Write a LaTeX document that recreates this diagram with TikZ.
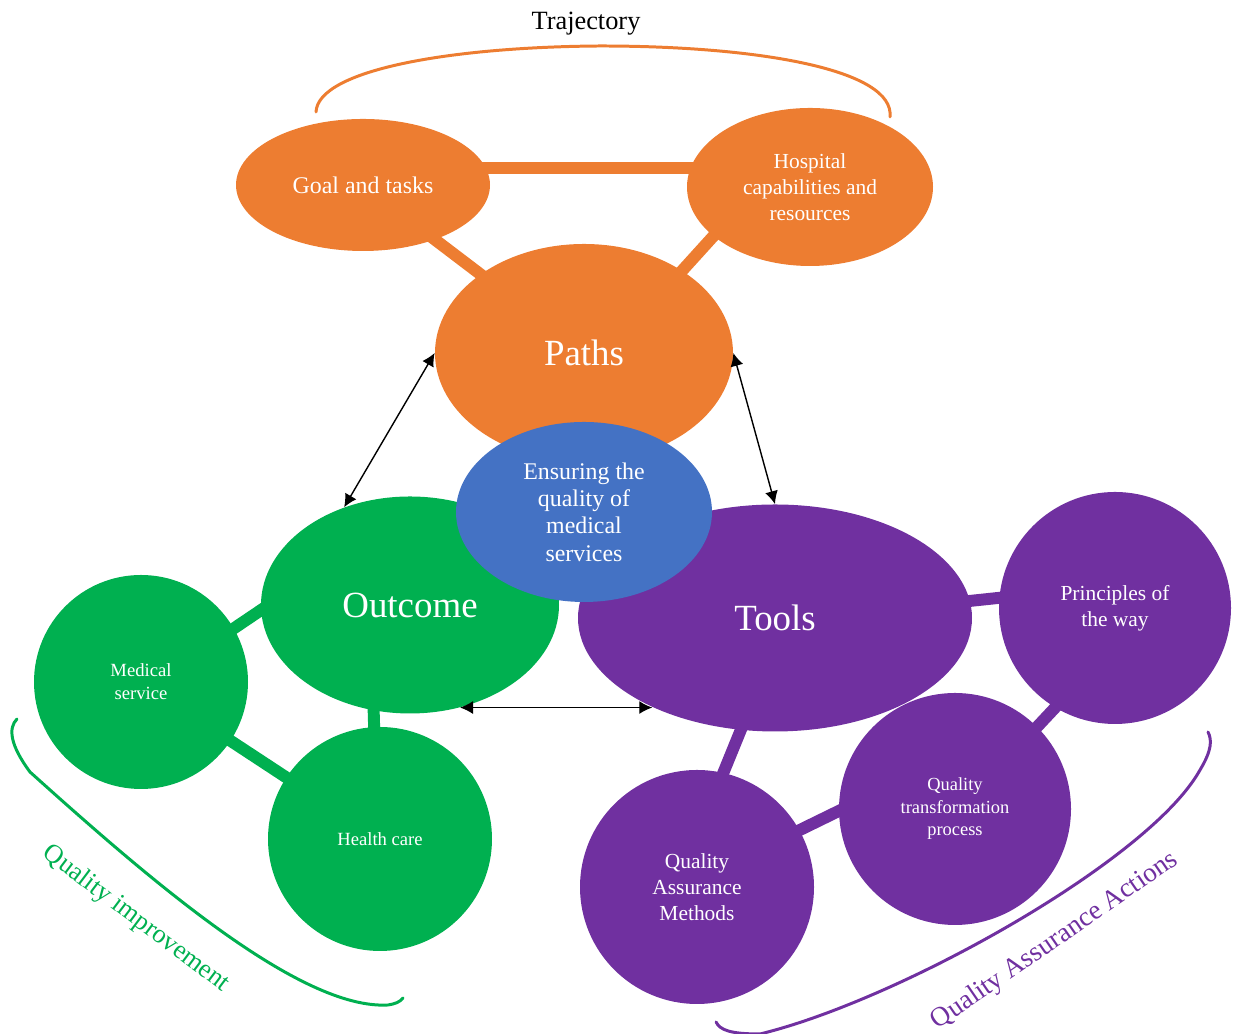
\documentclass[tikz,border=0pt]{standalone}
\usepackage{fontspec}
\setmainfont{Liberation Serif}
\usepackage{tikz}
\usetikzlibrary{calc}
\usetikzlibrary{shapes.geometric,arrows.meta}
\usetikzlibrary{backgrounds}
\definecolor{pathorange}{HTML}{ED7D31}
\definecolor{corebLue}{HTML}{4472C4}
\definecolor{outgreen}{HTML}{00B050}
\definecolor{toolpurple}{HTML}{7030A0}
\tikzset{
  bubble/.style={ellipse, inner sep=0pt, text=white, align=center},
  disc/.style={circle, inner sep=0pt, text=white, align=center},
  link/.style={line width=6.8pt, shorten <=-8pt, shorten >=-8pt},
  twoway/.style={{Latex[length=2.6mm,width=2.6mm]}-{Latex[length=2.6mm,width=2.6mm]}, line width=0.8pt},
  bracket/.style={line width=1.7pt, line cap=round}
}

\begin{document}
\begin{tikzpicture}
        \useasboundingbox (0,0) rectangle (24.76,20.68);
        %JALUR
        \node[bubble, fill=pathorange, minimum width=5.08cm, minimum height=2.64cm, font=\fontsize{13.6}{16}\selectfont] (goal) at (7.26,16.98) {Goal and tasks};
        \node[bubble, fill=pathorange, minimum width=4.92cm, minimum height=3.16cm, font=\fontsize{12.2}{14.7}\selectfont] (hospital) at (16.2,16.94) {Hospital\\capabilities and\\resources};
        \node[bubble, fill=pathorange, minimum width=5.96cm, minimum height=4.36cm, font=\fontsize{21}{25}\selectfont] (paths) at (11.68,13.62) {Paths};
        %HASIL
        \node[bubble, fill=outgreen, minimum width=5.96cm, minimum height=4.34cm, font=\fontsize{21}{25}\selectfont] (outcome) at (8.2,8.58) {Outcome};
        \node[disc, fill=outgreen, minimum size=4.28cm, font=\fontsize{10.6}{13}\selectfont] (medical) at (2.82,7.04) {Medical\\service};
        \node[disc, fill=outgreen, minimum size=4.48cm, font=\fontsize{10.6}{13}\selectfont] (health) at (7.6,3.9) {Health care};
        %ALAT
        \node[bubble, fill=toolpurple, minimum width=7.88cm, minimum height=4.54cm, font=\fontsize{21}{25}\selectfont] (tools) at (15.5,8.32) {Tools};
        \node[disc, fill=toolpurple, minimum size=4.64cm, font=\fontsize{12.2}{14.7}\selectfont] (principles) at (22.3,8.52) {Principles of\\the way};
        \node[disc, fill=toolpurple, minimum size=4.64cm, font=\fontsize{10.5}{12.8}\selectfont] (transform) at (19.1,4.5) {Quality\\transformation\\process};
        \node[disc, fill=toolpurple, minimum size=4.68cm, font=\fontsize{12.2}{14.7}\selectfont] (methods) at (13.94,2.94) {Quality\\Assurance\\Methods};
        %PUSAT
        \node[bubble, fill=corebLue, minimum width=5.12cm, minimum height=3.6cm, font=\fontsize{13.6}{15.6}\selectfont] (core) at (11.68,10.44) {Ensuring the\\quality of\\medical\\services};
        %GARIS HUBUNG
        \begin{scope}[on background layer]
          \draw[link, pathorange] (goal.8) -- (goal.8 -| hospital.center);
          \draw[link, pathorange] (goal) -- (paths);
          \draw[link, pathorange] (hospital.207) -- (paths.40);
          \draw[link, outgreen] (medical.30) -- (outcome.182);
          \draw[link, outgreen] (medical) -- (health);
          \draw[link, outgreen] (health.93) -- (outcome.251);
          \draw[link, toolpurple] (tools.5) -- (principles.175);
          \draw[link, toolpurple] (principles.239) -- (transform.45);
          \draw[link, toolpurple] (tools.253) -- (methods.77);
          \draw[link, toolpurple] (methods.29) -- (transform.181);
        \end{scope}
        %PANAH
        \draw[twoway] (paths.west) -- (outcome.124);
        \draw[twoway] (paths.east) -- (tools.north);
        \draw[twoway] (outcome.296) -- (tools.216 |- outcome.296);
        %KURUNG
        \draw[bracket, pathorange] (6.32,18.44) .. controls (6.36,19.28) and (9.0,19.74) .. (12.0,19.76) .. controls (15.2,19.76) and (17.9,19.28) .. (17.8,18.34);
        \node[font=\fontsize{15}{18}\selectfont] (trajectory) at (11.72,20.2) {Trajectory};
        \draw[bracket, outgreen] (0.34,6.3) .. controls (0.16,6.12) and (0.2,5.78) .. (0.6,5.24) .. controls (3.0,3.08) and (6.0,0.48) .. (7.76,0.58) .. controls (7.9,0.6) and (8.0,0.64) .. (8.06,0.72);
        \node[rotate=-37, text=outgreen, font=\fontsize{15}{18}\selectfont] (improve) at (2.72,2.3) {Quality improvement};
        \draw[bracket, toolpurple] (14.32,0.24) .. controls (14.4,0.08) and (14.6,0) .. (15.2,0) .. controls (18.0,0.68) and (23.0,3.48) .. (24.0,5.28) .. controls (24.24,5.68) and (24.24,5.88) .. (24.16,6.04);
        \node[rotate=34.6, text=toolpurple, font=\fontsize{15.5}{18}\selectfont] (actions) at (21.1,1.86) {Quality Assurance Actions};
    \end{tikzpicture}
\end{document}
